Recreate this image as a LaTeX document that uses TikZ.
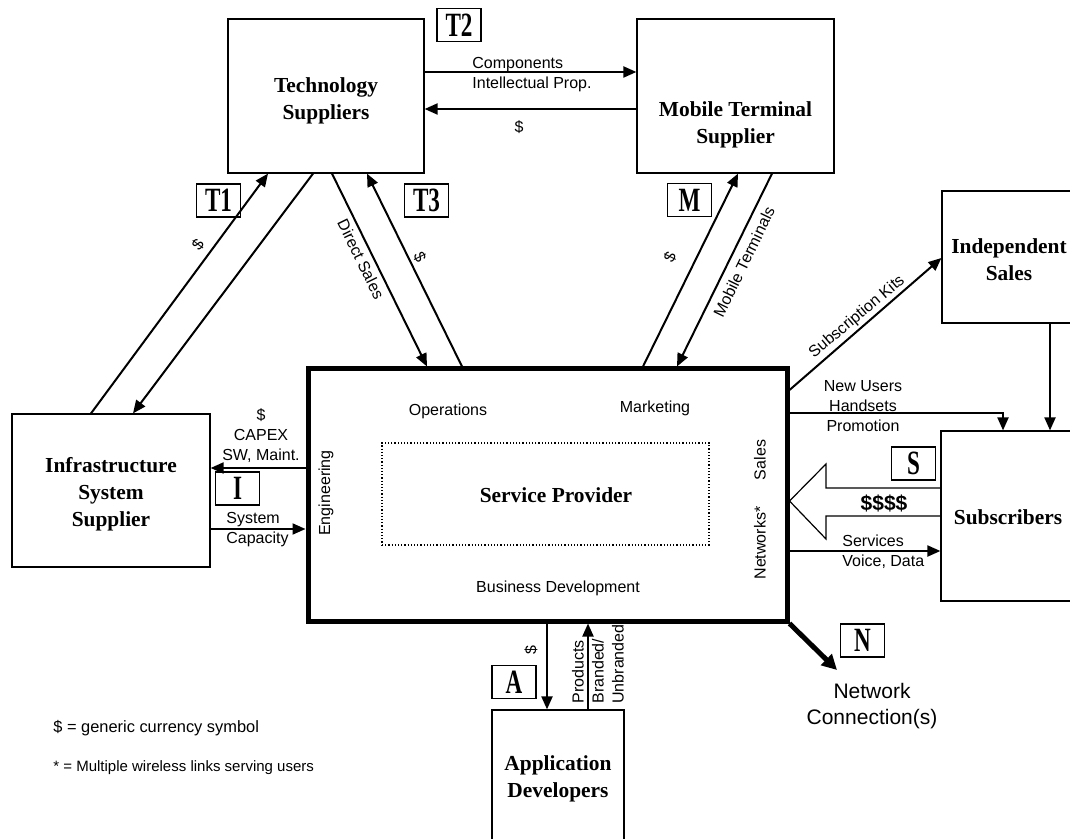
\documentclass[tikz,border=0pt]{standalone}
\usepackage{fontspec}
\usepackage{graphicx}
\setmainfont{Liberation Sans}
\newfontfamily\serifbf{Liberation Serif}
\usetikzlibrary{arrows.meta, positioning}
\newcommand{\tagtxt}[1]{\scalebox{0.68}[1]{#1}}

\begin{document}
\begin{tikzpicture}[x=0.5pt, y=-0.5pt, line join=miter]
   % Styles
   \tikzset{
    box/.style={draw, line width=0.6pt, inner sep=0pt},
    title/.style={inner sep=0pt, align=center,
      font=\serifbf\fontsize{10.7}{13.5}\selectfont\bfseries},
    tag/.style={draw, line width=0.6pt, minimum width=22pt, minimum height=16.5pt,
      inner sep=0pt, font=\serifbf\fontsize{17}{17}\selectfont\bfseries},
    txt/.style={inner sep=0pt, align=center, font=\fontsize{8}{10}\selectfont},
    arr/.style={line width=1pt, -{Triangle[length=6.5pt, width=5.5pt]}}
   }
  \useasboundingbox (0,0) rectangle (1070,839);
  % Boxes
  \node[box, minimum width=98pt, minimum height=77pt]    (tech) at (326,96) {};
  \node[box, minimum width=98.5pt, minimum height=77pt]  (mobile) at (735.5,96) {};
  \node[box, minimum width=99pt, minimum height=76.5pt]  (infra) at (111,490.5) {};
  \node[box, minimum width=68pt, minimum height=66pt]    (indep) at (1010,257) {};
  \node[box, minimum width=68.5pt, minimum height=85pt]  (subs) at (1009.5,516) {};
  \node[box, minimum width=66pt, minimum height=67pt]    (app) at (558,777) {};
  \node[box, line width=2.5pt, minimum width=239.5pt, minimum height=126pt] (sp) at (547.5,495) {};
  \node[box, densely dotted, line width=0.8pt, minimum width=163.5pt, minimum height=51pt] (core) at (545.5,494) {};
  % Titles
  \node[title] (techtxt)   at (326,101)   {Technology\\Suppliers};
  \node[title] (mobiletxt) at (735.5,124.5) {Mobile Terminal\\Supplier};
  \node[title] (infratxt)  at (111,494.5) {Infrastructure\\System\\Supplier};
  \node[title] (indeptxt)  at (1009,260)  {Independent\\Sales};
  \node[title] (substxt)   at (1008,517)  {Subscribers};
  \node[title] (apptxt)    at (558,779)   {Application\\Developers};
  \node[title] (coretxt)   at (556,495)   {Service Provider};
  % Tags
  \node[tag] (tagT2) at (459,25) {\tagtxt{T2}};
  \node[tag] (tagT1) at (218.5,200.5) {\tagtxt{T1}};
  \node[tag] (tagT3) at (426.5,200.5) {\tagtxt{T3}};
  \node[tag] (tagM)  at (689.5,200) {\tagtxt{M}};
  \node[tag] (tagI)  at (237.5,488.5) {\tagtxt{I}};
  \node[tag] (tagS)  at (913.5,463.5) {\tagtxt{S}};
  \node[tag] (tagA)  at (514,682) {\tagtxt{A}};
  \node[tag] (tagN)  at (862.5,640.5) {\tagtxt{N}};
  % Inside the service provider
  \node[txt] (ops)  at (448,411) {Operations};
  \node[txt] (mkt)  at (655,408) {Marketing};
  \node[txt] (bus)  at (558,588) {Business Development};
  \node[txt, rotate=90] (eng)  at (326,493) {Engineering};
  \node[txt, rotate=90] (sales) at (760,460) {Sales};
  \node[txt, rotate=90] (nets) at (760,543) {Networks*};
  % Edges
  \draw[arr] (tech.east |- 0,72) -- (mobile.west |- 0,72);
  \draw[arr] (mobile.west |- 0,109) -- (tech.east |- 0,109);
  \draw[arr] (infra.north -| 91,0) -- (tech.south -| 268,0);
  \draw[arr] (tech.south -| 313,0) -- (infra.north -| 133,0);
  \draw[arr] (tech.south -| 332,0) -- (sp.north -| 427,0);
  \draw[arr] (sp.north -| 462,0) -- (tech.south -| 367,0);
  \draw[arr] (sp.north -| 643,0) -- (mobile.south -| 738,0);
  \draw[arr] (mobile.south -| 772,0) -- (sp.north -| 677,0);
  \draw[arr] (sp.east |- 0,390) -- (indep.west |- 0,258);
  \draw[arr] (sp.east |- 0,413) -| (subs.north -| 1003,0);
  \draw[arr] (indep.south -| 1050,0) -- (subs.north -| 1050,0);
  \draw[arr] (sp.east |- 0,551) -- (subs.west |- 0,551);
  \draw[arr] (sp.west |- 0,468) -- (infra.east |- 0,468);
  \draw[arr] (infra.east |- 0,529) -- (sp.west |- 0,529);
  \draw[arr] (sp.south -| 547,0) -- (app.north -| 547,0);
  \draw[arr] (app.north -| 588,0) -- (sp.south -| 588,0);
  % hollow money arrow
  \draw[line width=0.6pt] (subs.west |- 0,488) -- (826,488) -- (826,464) -- (sp.east |- 0,501)
    -- (826,539) -- (826,516) -- (subs.west |- 0,516);
  % network connection
  \coordinate (netend) at (837,670);
  \draw[line width=2.5pt, -{Triangle[length=7.5pt, width=7.5pt]}] (sp.south east) -- (netend);
  \node[txt, font=\fontsize{10.5}{13}\selectfont] (netlbl) at (872,706) {Network\\Connection(s)};
  % Edge labels
  \node[txt, align=left, anchor=west] (lbcomp) at (472,75) {Components\\Intellectual Prop.};
  \node[txt] (lbtm) at (519,127) {\$};
  \node[txt, rotate=53.5] (lbt1) at (198,245) {\$};
  \node[txt, rotate=-64] (lbdirect) at (361,259) {Direct Sales};
  \node[txt, rotate=-64] (lbt3) at (420,257) {\$};
  \node[txt, rotate=64] (lbm) at (670,257) {\$};
  \node[txt, rotate=64] (lbmobile) at (744,262) {Mobile Terminals};
  \node[txt, rotate=40] (lbkits) at (857,317) {Subscription Kits};
  \node[txt] (lbnew) at (863,406) {New Users\\Handsets\\Promotion};
  \node[txt, font=\fontsize{10.5}{12}\selectfont\bfseries] (lbmoney) at (884,503) {\$\$\$\$};
  \node[txt, align=left, anchor=west] (lbserv) at (842,552) {Services\\Voice, Data};
  \node[txt] (lbcapex) at (261,436) {\$\\CAPEX\\SW, Maint.};
  \node[txt, align=left, anchor=west] (lbcap) at (226,530) {System\\Capacity};
  \node[txt, rotate=90] (lbapp) at (531,650) {\$};
  \node[txt, rotate=90, align=left] (lbprod) at (598,664) {Products\\Branded/\\Unbranded};
  % Legend
  \node[txt, anchor=west, font=\fontsize{8.2}{10}\selectfont] (leg1) at (53,728) {\$ = generic currency symbol};
  \node[txt, anchor=west, font=\fontsize{7.5}{9}\selectfont] (leg2) at (53,768) {* = Multiple wireless links serving users};
\end{tikzpicture}
\end{document}
